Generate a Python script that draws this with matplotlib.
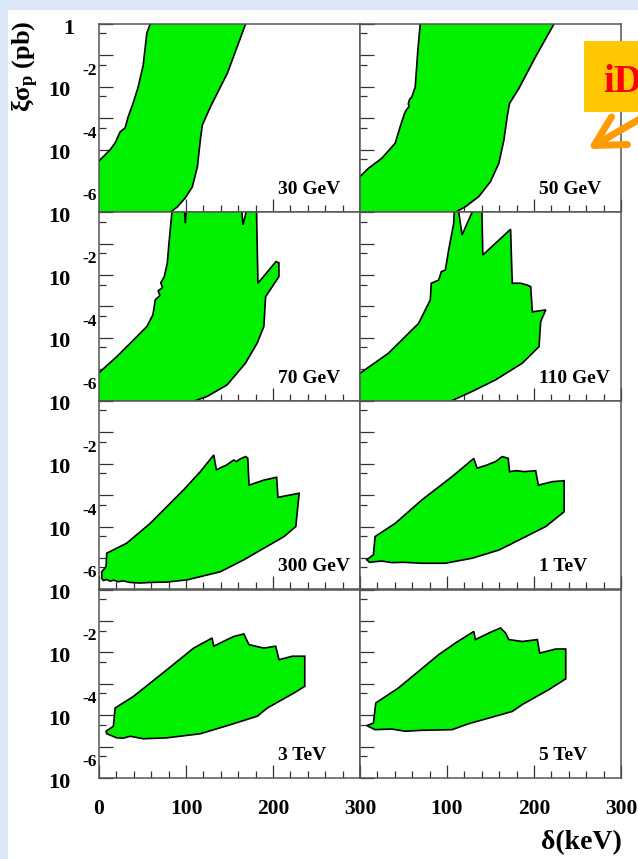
import numpy as np
import matplotlib
matplotlib.use("Agg")
import matplotlib.pyplot as plt
from matplotlib.patches import Rectangle, FancyArrowPatch, ArrowStyle
from matplotlib.ticker import FixedLocator, MultipleLocator, NullFormatter, FixedFormatter
from matplotlib.transforms import offset_copy

plt.rcParams.update({
    "font.family": ["Liberation Serif", "DejaVu Serif"],
    "font.weight": "bold",
    "mathtext.fontset": "custom",
    "mathtext.rm": "Liberation Serif:bold",
    "mathtext.it": "Liberation Serif:bold",
    "mathtext.bf": "Liberation Serif:bold",
    "mathtext.default": "rm",
})

# ---- allowed regions: delta (keV) vs log10(xi*sigma_p / pb) ----
panel_labels = ["30 GeV", "50 GeV", "70 GeV", "110 GeV",
                "300 GeV", "1 TeV", "3 TeV", "5 TeV"]

delta_30 = [60.5, 58.8, 55.0, 50.8, 45.0, 39.2, 33.5, 30.0, 24.2, 18.5, 12.7, 1.2,
            -10, -10, 78, 81.9, 90.0, 99.2, 107.3, 113.1, 116.5, 118.8, 128.1,
            147.7, 168.5, 173]
logxs_30 = [0.4, 0.0, -0.29, -1.31, -2.01, -2.52, -2.96, -3.31, -3.44, -3.79, -4.01,
            -4.33, -4.70, -6.5, -6.5, -6.0, -5.83, -5.54, -5.19, -4.55, -3.69, -3.22,
            -2.64, -1.56, 0.0, 0.4]

delta_50 = [69.8, 69.2, 66.5, 63.5, 59.6, 57.0, 55.5, 56.5, 53.0, 51.2, 46.2, 40.4,
            25.0, 9.6, 0.0, -10, -10, 105, 109.6, 121.2, 136.5, 150.0, 159.6, 165.4,
            169.2, 171.9, 182.7, 201.9, 223.0, 227]
logxs_50 = [0.4, 0.0, -0.83, -2.0, -2.32, -2.40, -2.55, -2.62, -2.75, -2.85, -3.27,
            -3.80, -4.28, -4.60, -4.86, -5.15, -6.5, -6.5, -6.0, -5.82, -5.50, -5.02,
            -4.44, -3.70, -2.95, -2.53, -2.05, -1.04, 0.0, 0.4]

delta_70 = [84.5, 83.8, 80.4, 78.5, 75.0, 71.0, 73.0, 68.0, 70.0, 64.6, 63.5, 61.9,
            55.0, 39.6, 20.4, 1.2, -10, -10, 106, 110.8, 124.1, 147.2, 168.3, 181.8,
            189.5, 191.5, 206.8, 206.8, 203.4, 182.7, 181.1, 181.0, 172.5, 165.5,
            163.0, 101.0, 99.2, 97.5]
logxs_70 = [0.4, 0.0, -0.99, -1.62, -2.05, -2.25, -2.40, -2.50, -2.65, -2.79, -3.00,
            -3.27, -3.64, -4.07, -4.60, -5.08, -5.40, -6.5, -6.5, -6.0, -5.87, -5.50,
            -4.81, -4.17, -3.64, -2.69, -2.05, -1.61, -1.57, -2.26, -0.01, 0.4, 0.4,
            -0.40, 0.4, 0.4, -0.35, 0.4]

delta_110 = [-10, 0.0, 32.7, 67.3, 80.8, 81.9, 90.4, 93.5, 98.1, 101.9, 107.7, 109.0,
             111.5, 117.3, 128.8, 139.8, 141.2, 173.1, 175.0, 184.6, 192.3, 196.2,
             198.1, 213.5, 207.7, 205.8, 186.5, 155.8, 128.8, 105.8, 100, -10]
logxs_110 = [-5.4, -5.13, -4.49, -3.54, -2.79, -2.26, -2.16, -1.89, -1.84, -1.20, -0.35,
             0.4, 0.4, -0.72, 0.0, 0.4, -1.36, -0.54, -2.26, -2.26, -2.32, -2.37,
             -3.17, -3.11, -3.48, -4.28, -4.81, -5.34, -5.71, -6.0, -6.5, -6.5]

delta_300 = [3.1, 3.1, 8.1, 8.9, 31.9, 58.8, 97.3, 116.5, 131.9, 135.0, 140.0, 146.0,
             151.2, 155.0, 158.0, 162.0, 168.5, 171.0, 172.5, 189.6, 204.2, 205.7,
             230.0, 229.5, 226.2, 212.7, 185.8, 166.5, 139.6, 101.2, 78.1, 60.0, 47.3,
             35.0, 28.0, 22.0, 17.0, 12.7, 9.0, 5.0]
logxs_300 = [-5.65, -5.44, -5.28, -4.85, -4.53, -3.90, -2.83, -2.25, -1.72, -2.20,
             -2.12, -2.05, -1.95, -1.88, -1.93, -1.85, -1.77, -1.82, -2.68, -2.52,
             -2.43, -3.07, -2.94, -3.10, -4.00, -4.32, -4.75, -5.06, -5.44, -5.70,
             -5.77, -5.78, -5.80, -5.78, -5.73, -5.76, -5.71, -5.74, -5.69, -5.72]

delta_1t = [7.7, 15.4, 17.3, 40.4, 71.2, 105.8, 130.8, 134.6, 145.0, 155.8, 163.5,
            170.4, 171.9, 180.0, 188.5, 201.9, 205.0, 221.2, 234.6, 234.6, 213.5,
            182.7, 159.6, 128.9, 98.1, 71.2, 50.0, 36.5, 25.0, 17.3, 11.0]
logxs_1t = [-5.06, -4.90, -4.32, -3.90, -3.15, -2.41, -1.83, -2.14, -2.05, -1.93, -1.77,
            -1.83, -2.25, -2.22, -2.25, -2.22, -2.68, -2.57, -2.54, -3.53, -4.00,
            -4.43, -4.75, -5.01, -5.17, -5.17, -5.14, -5.15, -5.10, -5.12, -5.14]

delta_3t = [8.1, 16.5, 18.5, 39.6, 78.1, 108.8, 130.0, 131.9, 145.0, 155.0, 166.5,
            172.3, 180.0, 189.6, 203.1, 206.9, 222.3, 236.5, 236.5, 224.2, 193.5,
            182.0, 151.2, 116.5, 78.1, 51.1, 35.8, 28.0, 20.4, 8.9]
logxs_3t = [-4.51, -4.35, -3.77, -3.40, -2.55, -1.86, -1.54, -1.80, -1.62, -1.49, -1.41,
            -1.75, -1.80, -1.86, -1.80, -2.23, -2.12, -2.12, -3.08, -3.29, -3.77,
            -4.03, -4.30, -4.59, -4.72, -4.75, -4.67, -4.73, -4.72, -4.59]

delta_5t = [7.7, 15.4, 18.1, 44.2, 90.4, 109.6, 130.8, 132.7, 148.1, 161.5, 167.3,
            171.1, 186.5, 203.9, 206.5, 225.0, 236.5, 236.5, 217.3, 186.5, 175.0,
            148.1, 125.0, 105.8, 71.2, 51.9, 36.5, 17.3]
logxs_5t = [-4.33, -4.25, -3.61, -3.13, -2.07, -1.70, -1.33, -1.59, -1.38, -1.22, -1.38,
            -1.59, -1.65, -1.59, -2.02, -1.89, -1.89, -2.84, -3.18, -3.66, -3.88,
            -4.09, -4.27, -4.46, -4.48, -4.51, -4.44, -4.46]

regions = [(delta_30, logxs_30), (delta_50, logxs_50), (delta_70, logxs_70),
           (delta_110, logxs_110), (delta_300, logxs_300), (delta_1t, logxs_1t),
           (delta_3t, logxs_3t), (delta_5t, logxs_5t)]

x_major = [0, 100, 200, 300]
x_labels_left = ["0", "100", "200", "300"]
x_labels_right = ["", "100", "200", "300"]
y_label_exps = [-2, -4, -6]

# ---- figure geometry (pixels) ----
W, H = 638, 859
fig = plt.figure(figsize=(W / 100, H / 100), dpi=100)
fig.patch.set_facecolor("#dbe7f6")
fig.add_artist(Rectangle((8 / W, 0), 1, 1 - 10 / H, transform=fig.transFigure,
                         facecolor="white", edgecolor="none", zorder=-5))

col_x = [99, 360]
pw = 261
row_top = [24, 212.3, 401, 589.7]
ph = 188.3
green = "#00f000"
frame = "#555555"

for i, (label, (dl, lg)) in enumerate(zip(panel_labels, regions)):
    r, c = divmod(i, 2)
    ax = fig.add_axes([col_x[c] / W, 1 - (row_top[r] + ph) / H, pw / W, ph / H])
    ax.set_yscale("log")
    ax.set_xlim(0, 300)
    ax.set_ylim(1e-6, 1)
    ax.fill(dl, 10.0 ** np.array(lg), facecolor=green, edgecolor="black",
            linewidth=1.2, zorder=2)

    ax.yaxis.set_major_locator(FixedLocator(10.0 ** np.arange(-6, 1)))
    ax.yaxis.set_minor_locator(FixedLocator(5 * 10.0 ** np.arange(-6, 0)))
    ax.yaxis.set_major_formatter(NullFormatter())
    ax.yaxis.set_minor_formatter(NullFormatter())
    ax.xaxis.set_major_locator(FixedLocator(x_major))
    ax.xaxis.set_minor_locator(MultipleLocator(20))
    ax.xaxis.set_minor_formatter(NullFormatter())
    if r == 3:
        ax.xaxis.set_major_formatter(FixedFormatter(x_labels_left if c == 0 else x_labels_right))
    else:
        ax.xaxis.set_major_formatter(NullFormatter())

    ax.tick_params(axis="y", which="major", direction="in", length=10, width=0.9,
                   color="#333333", left=True, right=False)
    ax.tick_params(axis="y", which="minor", direction="in", length=5, width=0.9,
                   color="#333333", left=True, right=False)
    ax.tick_params(axis="x", which="major", direction="in", length=9.4, width=0.9,
                   color="#333333", bottom=True, top=False, pad=15, labelsize=15.5)
    ax.tick_params(axis="x", which="minor", direction="in", length=4.7, width=0.9,
                   color="#333333", bottom=True, top=False)
    for sp in ax.spines.values():
        sp.set_color(frame)
        sp.set_linewidth(1.1)

    ax.text(206, 0.095, label, transform=ax.get_xaxis_transform(), ha="left",
            va="baseline", fontsize=14, fontweight="bold")

    if c == 0:
        ytr = ax.get_yaxis_transform()
        for e in y_label_exps:
            ax.text(0, 10.0 ** e, "10",
                    transform=offset_copy(ytr, fig=fig, x=-28, y=-9.5, units="dots"),
                    ha="right", va="baseline", fontsize=16, fontweight="bold")
            ax.text(0, 10.0 ** e, f"{e}",
                    transform=offset_copy(ytr, fig=fig, x=-2, y=12, units="dots"),
                    ha="right", va="baseline", fontsize=12.5, fontweight="bold")
        if r == 0:
            ax.text(0, 1.0, "1",
                    transform=offset_copy(ytr, fig=fig, x=-25, y=-10.5, units="dots"),
                    ha="right", va="baseline", fontsize=16, fontweight="bold")

# axis titles
fig.text(25 / W, 1 - 20 / H, r"$\xi\sigma_{p}$ (pb)", rotation=90, ha="center",
         va="top", fontsize=19, fontweight="bold")
fig.text(622 / W, 1 - 843 / H, "δ(keV)", ha="right", va="center", fontsize=20,
         fontweight="bold")

# callout box with arrow
fig.add_artist(Rectangle((584 / W, 1 - 112 / H), 60 / W, 71 / H, transform=fig.transFigure,
                         facecolor="#ffc800", edgecolor="none", zorder=5))
fig.text(603 / W, 1 - 92 / H, "iD", color="#ff0000", fontsize=28, fontweight="bold",
         ha="left", va="baseline", zorder=6)
arrow = FancyArrowPatch((645 / W, 1 - 116 / H), (588 / W, 1 - 149 / H),
                        transform=fig.transFigure,
                        arrowstyle=ArrowStyle("->", head_length=21, head_width=11.5),
                        mutation_scale=1, color="#ff9a00", linewidth=5,
                        shrinkA=0, shrinkB=0, capstyle="round", joinstyle="round",
                        zorder=6)
fig.add_artist(arrow)

fig.savefig("out.png", dpi=100, facecolor=fig.get_facecolor())
